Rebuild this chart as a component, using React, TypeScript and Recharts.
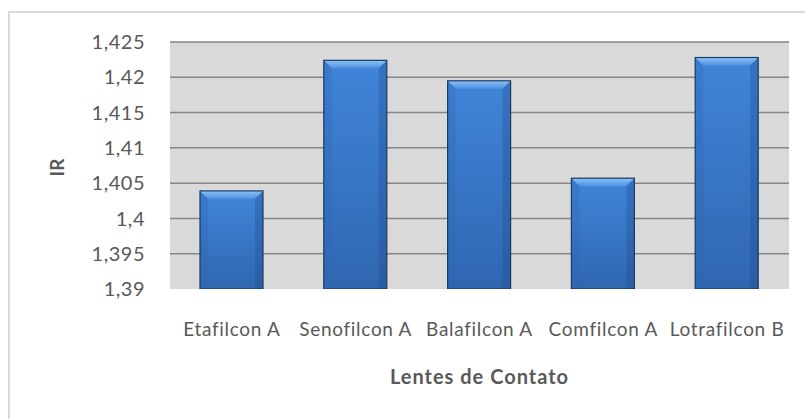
import React from "react"
import { BarChart, Bar, XAxis, YAxis, CartesianGrid } from "recharts"

const lenses = ["Etafilcon A", "Senofilcon A", "Balafilcon A", "Comfilcon A", "Lotrafilcon B"]
const irValues = [1.4039, 1.4224, 1.4195, 1.4057, 1.4228]
const yTicks = [1.39, 1.395, 1.4, 1.405, 1.41, 1.415, 1.42, 1.425]

const data = lenses.map((name, i) => ({ name, ir: irValues[i] }))

const font = "Lato, 'Open Sans', sans-serif"
const textColor = "#595959"
const noLig = { fontVariantLigatures: "none" as const }

// bevelled bar, like the office 3d preset
function BevelBar(props: any) {
  const { x, y, width, height } = props
  if (!height || height <= 0) return null
  const b = 8
  return (
    <g>
      <rect x={x - 1} y={y + height} width={width + 2} height={3} fill="#bfbfbf" opacity={0.6} />
      <rect x={x} y={y} width={width} height={height} fill="url(#barBody)" />
      <polygon
        points={`${x},${y} ${x + width},${y} ${x + width - b},${y + b} ${x + b},${y + b}`}
        fill="url(#barTop)"
      />
      <polygon
        points={`${x},${y} ${x + b},${y + b} ${x + b},${y + height} ${x},${y + height}`}
        fill="#2f68b4"
        opacity={0.3}
      />
      <polygon
        points={`${x + width},${y} ${x + width - b},${y + b} ${x + width - b},${y + height} ${x + width},${y + height}`}
        fill="#1f4a85"
        opacity={0.3}
      />
      <rect x={x} y={y} width={width} height={height} fill="none" stroke="#1d3a63" strokeWidth={1.2} />
    </g>
  )
}

function IrLabel(props: any) {
  const { viewBox } = props
  const cy = viewBox.y + viewBox.height / 2 + 2
  return (
    <text
      x={64}
      y={cy}
      transform={`rotate(-90, 64, ${cy})`}
      textAnchor="middle"
      fontFamily={font}
      fontWeight="bold"
      fontSize={19}
      fill={textColor}
    >
      IR
    </text>
  )
}

export default function App() {
  return (
    <div style={{ position: "absolute", left: 0, top: 0, width: 805, height: 419, overflow: "hidden", background: "#fff" }}>
      <div
        style={{
          position: "absolute",
          left: 8,
          top: 11,
          width: 820,
          height: 430,
          border: "2px solid #d9d9d9",
          boxSizing: "border-box",
        }}
      />
      <div style={{ position: "absolute", left: 0, top: 0 }}>
        <BarChart
          width={805}
          height={419}
          data={data}
          margin={{ top: 42, right: 16, bottom: 0, left: 0 }}
          barSize={63}
        >
          <defs>
            <linearGradient id="barBody" x1="0" y1="0" x2="0" y2="1">
              <stop offset="0%" stopColor="#4085d9" />
              <stop offset="100%" stopColor="#2f66b0" />
            </linearGradient>
            <linearGradient id="barTop" x1="0" y1="0" x2="0" y2="1">
              <stop offset="0%" stopColor="#8cc4f7" />
              <stop offset="100%" stopColor="#4d90e0" />
            </linearGradient>
          </defs>
          <CartesianGrid
            vertical={false}
            fill="#d9d9d9"
            fillOpacity={1}
            stroke="#868686"
            strokeWidth={1.5}
            horizontalValues={yTicks.slice(1)}
          />
          <XAxis
            dataKey="name"
            height={130}
            axisLine={false}
            tickLine={false}
            tickSize={0}
            tickMargin={34}
            interval={0}
            tick={{ fontSize: 19, fill: textColor, fontFamily: font, letterSpacing: 0.7, style: noLig }}
            label={{
              value: "Lentes de Contato",
              position: "insideBottom",
              offset: 35,
              fontSize: 20,
              fontWeight: "bold",
              fill: textColor,
              fontFamily: font,
              letterSpacing: 1,
            }}
          />
          <YAxis
            width={170}
            domain={[1.39, 1.425]}
            ticks={yTicks}
            allowDataOverflow
            axisLine={false}
            tickLine={false}
            tickSize={0}
            tickMargin={25}
            tickFormatter={(v: number) => String(v).replace(".", ",")}
            tick={{ fontSize: 20, fill: textColor, fontFamily: font, letterSpacing: 0.5 }}
            label={<IrLabel />}
          />
          <Bar dataKey="ir" shape={<BevelBar />} isAnimationActive={false} />
        </BarChart>
      </div>
    </div>
  )
}
